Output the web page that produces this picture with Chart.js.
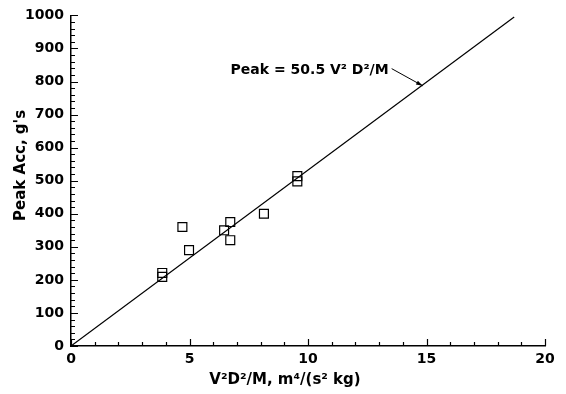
<!DOCTYPE html>
<html>
<head>
<meta charset="utf-8">
<script src="https://cdn.jsdelivr.net/npm/chart.js@4.4.1/dist/chart.umd.min.js"></script>
<style>
  html, body { margin: 0; padding: 0; background: #fff; }
  #wrap { width: 566px; height: 394px; }
</style>
</head>
<body>
<div id="wrap"><canvas id="c" width="566" height="394"></canvas></div>
<script>
// measured points (V^2 D^2 / M  vs  peak acceleration)
const pointX = [3.85, 3.85, 4.7, 4.98, 6.46, 6.72, 6.72, 8.14, 9.55, 9.55];
const pointY = [221, 209, 360, 290, 350, 375, 320, 400, 514, 498];

// fitted line, end points as drawn
const fitX = [0, 18.7];
const fitY = [0, 995];

// axis ticks
const xTicks = [0, 5, 10, 15, 20];
const yTicks = [0, 100, 200, 300, 400, 500, 600, 700, 800, 900, 1000];
const xMinorStep = 1;
const yMinorStep = 20;

// annotation label and arrow (start -> tip)
const annotText = "Peak = 50.5 V\u00B2 D\u00B2/M";
const arrowX = [13.53, 14.84];
const arrowY = [839, 787];

const xTitle = "V\u00B2D\u00B2/M, m\u2074/(s\u00B2 kg)";
const yTitle = "Peak Acc, g's";

const FONT = "DejaVu Sans";

// inward ticks, titles and the label arrow
const decor = {
  id: "decor",
  afterDraw(chart) {
    const ctx = chart.ctx;
    const xs = chart.scales.x, ys = chart.scales.y;
    const a = chart.chartArea;
    ctx.save();
    ctx.strokeStyle = "#000";
    ctx.lineWidth = 1.2;
    ctx.beginPath();
    for (let v = xs.min; v <= xs.max + 1e-9; v += xMinorStep) {
      const px = Math.round(xs.getPixelForValue(v)) + 0.5;
      const len = xTicks.includes(v) ? 7 : 4;
      ctx.moveTo(px, a.bottom); ctx.lineTo(px, a.bottom - len);
    }
    for (let v = ys.min; v <= ys.max + 1e-9; v += yMinorStep) {
      const py = Math.round(ys.getPixelForValue(v)) + 0.5;
      const len = yTicks.includes(v) ? 7 : 4;
      ctx.moveTo(a.left, py); ctx.lineTo(a.left + len, py);
    }
    ctx.stroke();

    // axis titles
    ctx.fillStyle = "#000";
    ctx.font = "bold 15px '" + FONT + "'";
    ctx.textAlign = "center";
    ctx.textBaseline = "alphabetic";
    ctx.fillText(xTitle, a.left + 214, 384);
    ctx.save();
    ctx.translate(25, a.top + 150);
    ctx.rotate(-Math.PI / 2);
    ctx.fillText(yTitle, 0, 0);
    ctx.restore();

    // annotation
    const x0 = xs.getPixelForValue(arrowX[0]), y0 = ys.getPixelForValue(arrowY[0]);
    const x1 = xs.getPixelForValue(arrowX[1]), y1 = ys.getPixelForValue(arrowY[1]);
    ctx.font = "bold 14px '" + FONT + "'";
    ctx.textAlign = "right";
    ctx.textBaseline = "alphabetic";
    ctx.fillText(annotText, x0 - 3, y0 + 5);
    ctx.lineWidth = 1;
    ctx.beginPath();
    ctx.moveTo(x0, y0); ctx.lineTo(x1, y1);
    ctx.stroke();
    const ang = Math.atan2(y1 - y0, x1 - x0);
    ctx.beginPath();
    ctx.moveTo(x1, y1);
    ctx.lineTo(x1 - 7 * Math.cos(ang - 0.3), y1 - 7 * Math.sin(ang - 0.3));
    ctx.lineTo(x1 - 7 * Math.cos(ang + 0.3), y1 - 7 * Math.sin(ang + 0.3));
    ctx.closePath();
    ctx.fill();
    ctx.restore();
  }
};

new Chart(document.getElementById("c"), {
  type: "scatter",
  data: {
    datasets: [
      {
        label: "data",
        data: pointX.map((x, i) => ({ x: x, y: pointY[i] })),
        pointStyle: "rect",
        pointRadius: 6.3,
        pointHoverRadius: 6.3,
        borderColor: "#000",
        borderWidth: 1.2,
        backgroundColor: "rgba(0,0,0,0)",
        showLine: false
      },
      {
        label: "fit",
        data: fitX.map((x, i) => ({ x: x, y: fitY[i] })),
        showLine: true,
        borderColor: "#000",
        borderWidth: 1.2,
        pointRadius: 0,
        fill: false
      }
    ]
  },
  options: {
    responsive: false,
    animation: false,
    events: [],
    layout: { padding: { top: 13, right: 21, left: 0, bottom: 0 } },
    plugins: { legend: { display: false }, tooltip: { enabled: false } },
    scales: {
      x: {
        type: "linear",
        min: 0, max: 20,
        afterBuildTicks: (s) => { s.ticks = xTicks.map(v => ({ value: v })); },
        afterFit: (s) => { s.height = 48; },
        grid: { display: true, drawOnChartArea: false, drawTicks: false },
        border: { display: true, color: "#000", width: 1.5 },
        ticks: { color: "#000", padding: 5, maxRotation: 0, callback: (v) => String(v), font: { family: FONT, size: 14, weight: "bold" } }
      },
      y: {
        type: "linear",
        min: 0, max: 1000,
        afterBuildTicks: (s) => { s.ticks = yTicks.map(v => ({ value: v })); },
        afterFit: (s) => { s.width = 71; },
        grid: { display: true, drawOnChartArea: false, drawTicks: false },
        border: { display: true, color: "#000", width: 1.5 },
        ticks: { color: "#000", padding: 7, callback: (v) => String(v), font: { family: FONT, size: 14, weight: "bold" } }
      }
    }
  },
  plugins: [decor]
});
</script>
</body>
</html>
